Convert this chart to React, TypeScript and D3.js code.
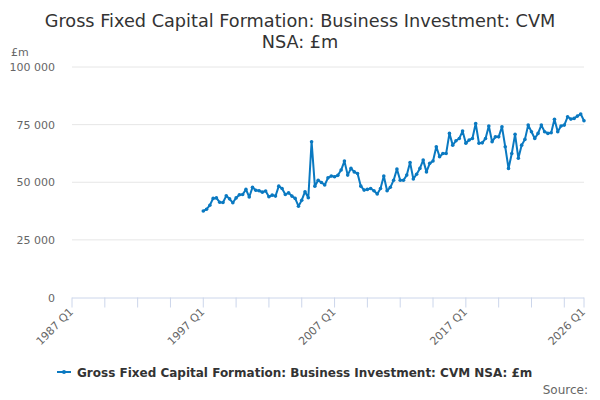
import * as d3 from "d3";

// Quarterly business investment, £m (CVM, not seasonally adjusted), 1997 Q1 .. 2026 Q1
const baseYear = 1987; // axis starts at 1987 Q1 (index 0)
const firstIdx = 40; // 1997 Q1
const values = [
  37500, 38300, 40000, 43000, 43200, 41300, 41200, 44100, 42800, 41100,
  43200, 44600, 44700, 46900, 43600, 47800, 46500, 46300, 45700, 46200,
  43700, 44400, 44000, 48300, 47300, 44700, 45400, 44000, 43000, 39600,
  42200, 45900, 43300, 67600, 48300, 50900, 49900, 48800, 51900, 52700,
  52400, 53000, 55300, 59200, 53100, 56000, 54500, 53800, 48300, 46600,
  46900, 47300, 46300, 44900, 47300, 52700, 46300, 47800, 50900, 55700,
  50900, 50900, 53100, 58600, 51400, 53500, 56000, 59600, 54500, 58200,
  59200, 65400, 61100, 62500, 62500, 71200, 66100, 68000, 69000, 72200,
  66900, 68300, 69000, 75500, 66900, 67100, 69000, 74400, 67600, 69700,
  69700, 74100, 65400, 56000, 62500, 70800, 60400, 66100, 68600, 74800,
  71900, 69000, 71200, 74800, 71900, 71200, 71500, 77300, 71900, 74400,
  74800, 78400, 77400, 77700, 78700, 79600, 76700,
];
const yTicks = [0, 25000, 50000, 75000, 100000];
const xTickIdx = [0, 10, 20, 30, 40, 50, 60, 70, 80, 90, 100, 110, 120, 130, 140, 150, 156];
const xLabelIdx = [0, 40, 80, 120, 156];
const seriesName = "Gross Fixed Capital Formation: Business Investment: CVM NSA: £m";

const quarter = (i: number) => `${baseYear + Math.floor(i / 4)} Q${(i % 4) + 1}`;
const fmt = (v: number) => d3.format(",")(v).replace(/,/g, " ");

export default function App() {
  const width = 600;
  const height = 400;
  const font = "'DejaVu Sans', Verdana, sans-serif";
  const blue = "#0a79c1";

  const x = d3.scaleLinear().domain([0, 156]).range([72, 584]);
  const y = d3.scaleLinear().domain([0, 100000]).range([297.5, 67]);
  const line = d3
    .line<number>()
    .x((_, i) => x(firstIdx + i))
    .y((d) => y(d));

  return (
    <>
      <style>{`body{margin:0}`}</style>
      <svg width={width} height={height} style={{ display: "block", fontFamily: font }}>
        <rect width={width} height={height} fill="#fff" />
        <text x={300} y={27} textAnchor="middle" fontSize="17.7" fill="#333">
          Gross Fixed Capital Formation: Business Investment: CVM
        </text>
        <text x={300} y={48} textAnchor="middle" fontSize="17.7" fill="#333">
          NSA: £m
        </text>
        <text x={11} y={56} fontSize="11" fill="#666">£m</text>

        {yTicks.map((t) => (
          <g key={`y${t}`}>
            {t > 0 && <line x1={72} x2={584} y1={y(t)} y2={y(t)} stroke="#e6e6e6" />}
            <text x={55} y={y(t) + 4} textAnchor="end" fontSize="11" fill="#666">{fmt(t)}</text>
          </g>
        ))}

        <line x1={72} x2={584} y1={y(0) + 0.5} y2={y(0) + 0.5} stroke="#ccd6eb" />
        {xTickIdx.map((i) => (
          <line key={`t${i}`} x1={x(i)} x2={x(i)} y1={y(0)} y2={y(0) + 10} stroke="#ccd6eb" />
        ))}
        {xLabelIdx.map((i) => (
          <text
            key={`l${i}`}
            transform={`translate(${x(i) + 2},${y(0) + 15}) rotate(-45)`}
            textAnchor="end"
            fontSize="11"
            fill="#666"
          >
            {quarter(i)}
          </text>
        ))}

        <path d={line(values) ?? ""} fill="none" stroke={blue} strokeWidth={2} strokeLinejoin="round" />
        {values.map((v, k) => (
          <circle key={k} cx={x(firstIdx + k)} cy={y(v)} r={1.8} fill={blue} />
        ))}

        <line x1={57} x2={71} y1={372} y2={372} stroke={blue} strokeWidth={2} />
        <circle cx={64} cy={372} r={2} fill={blue} />
        <text x={77} y={376.5} fontSize="12" fontWeight="bold" fill="#333">{seriesName}</text>
        <text x={588} y={394} textAnchor="end" fontSize="12" fill="#666">Source:</text>
      </svg>
    </>
  );
}
